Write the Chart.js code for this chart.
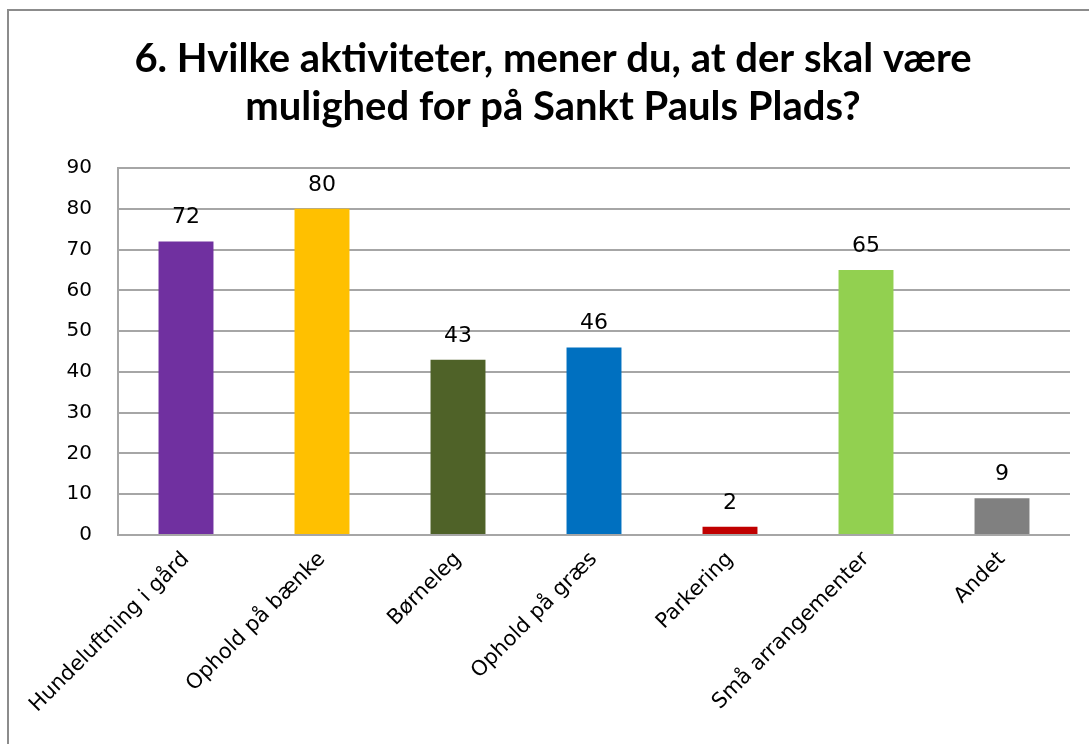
<!DOCTYPE html>
<html>
<head>
<meta charset="utf-8">
<script src="https://cdn.jsdelivr.net/npm/chart.js@4/dist/chart.umd.min.js"></script>
<style>
    body { margin: 0; background: #fff; overflow: hidden; }
    #frame { position: absolute; left: 7px; top: 9px; width: 1200px; height: 800px; border: 2px solid #8c8c8c; }
    #wrap { position: absolute; left: 0; top: 0; width: 1089px; height: 744px; }
</style>
</head>
<body>
<div id="frame"></div>
<div id="wrap"><canvas id="chart"></canvas></div>
<script>
const categories = ['Hundeluftning i gård', 'Ophold på bænke', 'Børneleg', 'Ophold på græs', 'Parkering', 'Små arrangementer', 'Andet'];
const answers = [72, 80, 43, 46, 2, 65, 9];
const barColors = ['#7030A0', '#FFC000', '#4F6228', '#0070C0', '#C00000', '#92D050', '#808080'];
const titleLines = ['6. Hvilke aktiviteter, mener du, at der skal være', 'mulighed for på Sankt Pauls Plads?'];
const yMax = 90;
const yStep = 10;

// tal over hver søjle
const valueLabels = {
    id: 'valueLabels',
    afterDatasetsDraw(chart) {
        const ctx = chart.ctx;
        const meta = chart.getDatasetMeta(0);
        ctx.save();
        ctx.font = '22px "DejaVu Sans"';
        ctx.fillStyle = '#000';
        ctx.textAlign = 'center';
        ctx.textBaseline = 'alphabetic';
        meta.data.forEach((bar, i) => {
            ctx.fillText(String(answers[i]), bar.x, bar.y - 18);
        });
        ctx.restore();
    }
};

const ctx = document.getElementById('chart').getContext('2d');
new Chart(ctx, {
    type: 'bar',
    data: {
        labels: categories,
        datasets: [{
            data: answers,
            backgroundColor: barColors,
            barPercentage: 1,
            categoryPercentage: 0.404,
        }],
    },
    options: {
        responsive: true,
        maintainAspectRatio: false,
        animation: false,
        layout: { padding: { left: 36, right: 19, top: 0, bottom: 0 } },
        plugins: {
            legend: { display: false },
            tooltip: { enabled: false },
            title: {
                display: true,
                text: titleLines,
                color: '#000',
                font: { family: 'Lato', weight: 'bold', size: 40, lineHeight: 1.2 },
                padding: { top: 35, bottom: 37 },
            },
        },
        scales: {
            x: {
                grid: { display: false },
                border: { display: false },
                ticks: {
                    color: '#000',
                    font: { family: 'DejaVu Sans', size: 21 },
                    minRotation: 45,
                    maxRotation: 45,
                    padding: 4,
                },
                afterFit(scale) { scale.height = 209; },
            },
            y: {
                min: 0,
                max: yMax,
                ticks: {
                    stepSize: yStep,
                    color: '#000',
                    font: { family: 'DejaVu Sans', size: 20 },
                    padding: 26,
                },
                grid: { color: '#a6a6a6', lineWidth: 2, drawTicks: false },
                border: { display: true, color: '#a6a6a6', width: 2 },
                afterFit(scale) { scale.width = 82; },
            },
        },
    },
    plugins: [valueLabels],
});
</script>
</body>
</html>
